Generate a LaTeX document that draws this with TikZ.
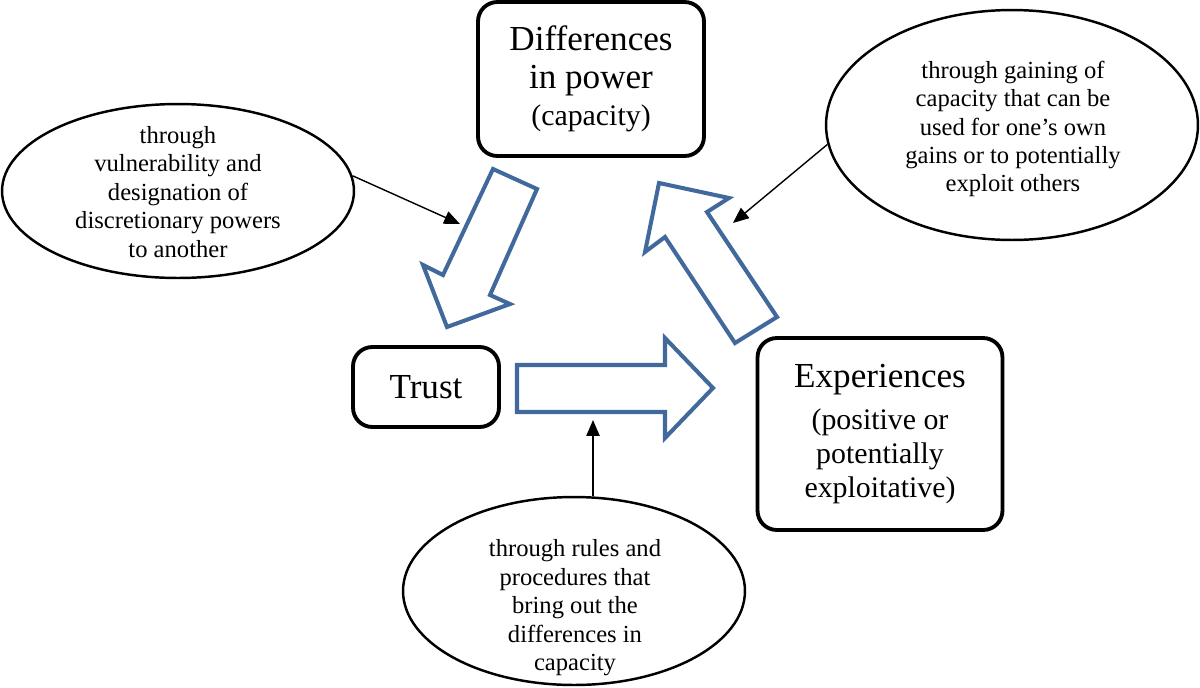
\documentclass[tikz,border=0pt]{standalone}
\usepackage{fontspec}
\setmainfont{Liberation Serif}
\usepackage{tikz}
\usetikzlibrary{arrows.meta,shapes,calc}

\definecolor{arrowblue}{RGB}{65,105,155}

\tikzset{
	box/.style={draw, line width=2.2pt, rounded corners=11pt, align=center},
	bubble/.style={draw, ellipse, line width=1.4pt, inner sep=0pt},
	bubbletext/.style={align=center, font=\fontsize{14}{16.2}\selectfont},
	conn/.style={line width=0.8pt, -{Triangle[length=9pt,width=7.5pt]}},
	blockarrow/.style={draw=arrowblue, line width=2.3pt, line join=miter}
}

\begin{document}
\begin{tikzpicture}[x=0.02cm, y=-0.02cm]
	\useasboundingbox (0,0) rectangle (1200,687);
	
	% boxes
	\node[box, minimum width=4.52cm, minimum height=3.08cm, font=\fontsize{20}{21.5}\selectfont] (power) at (591,79)
		{Differences\\ in power\\ {\fontsize{17}{21.5}\selectfont (capacity)}};
	\node[box, minimum width=2.92cm, minimum height=1.6cm, font=\fontsize{20}{22}\selectfont] (trust) at (426,387) {Trust};
	\node[box, minimum width=4.9cm, minimum height=3.84cm, font=\fontsize{20}{19.5}\selectfont] (exper) at (880,434)
		{Experiences\\[4.5pt] {\fontsize{17}{19.5}\selectfont (positive or}\\ {\fontsize{17}{19.5}\selectfont potentially}\\ {\fontsize{17}{19.5}\selectfont exploitative)}};
	
	% ellipses
	\node[bubble, minimum width=7.04cm, minimum height=3.48cm] (vuln) at (178,191) {};
	\node[bubbletext] (vulntext) at (178,192) {through\\ vulnerability and\\ designation of\\ discretionary powers\\ to another};
	\node[bubble, minimum width=7.44cm, minimum height=4.6cm] (gain) at (1012,125) {};
	\node[bubbletext] (gaintext) at (1013,129) {through gaining of\\ capacity that can be\\ used for one’s own\\ gains or to potentially\\ exploit others};
	\node[bubble, minimum width=6.84cm, minimum height=3.76cm] (rules) at (574,591) {};
	\node[bubbletext] (rulestext) at (575,608) {through rules and\\ procedures that\\ bring out the\\ differences in\\ capacity};
	
	% block arrows
	\draw[blockarrow] (493,169) -- (537,189) -- (490,295) -- (510,304) -- (447,327) -- (423,265) -- (443,275) -- cycle;
	\draw[blockarrow] (517,365) -- (665,365) -- (665,338) -- (713,388) -- (665,438) -- (665,412) -- (517,412) -- cycle;
	\draw[blockarrow] (735,343) -- (777,317) -- (707,212) -- (729,198) -- (659,183) -- (645,252) -- (665,237) -- cycle;
	
	\coordinate (tipA) at (460,224);
	\coordinate (tipB) at (733,223);
	\coordinate (tipC) at (593,420);
	
	\draw[conn] (vuln.5) -- (tipA);
	\draw[conn] (gain.186) -- (tipB);
	\draw[conn] (tipC |- rules.78) -- (tipC);
	
\end{tikzpicture}
\end{document}
